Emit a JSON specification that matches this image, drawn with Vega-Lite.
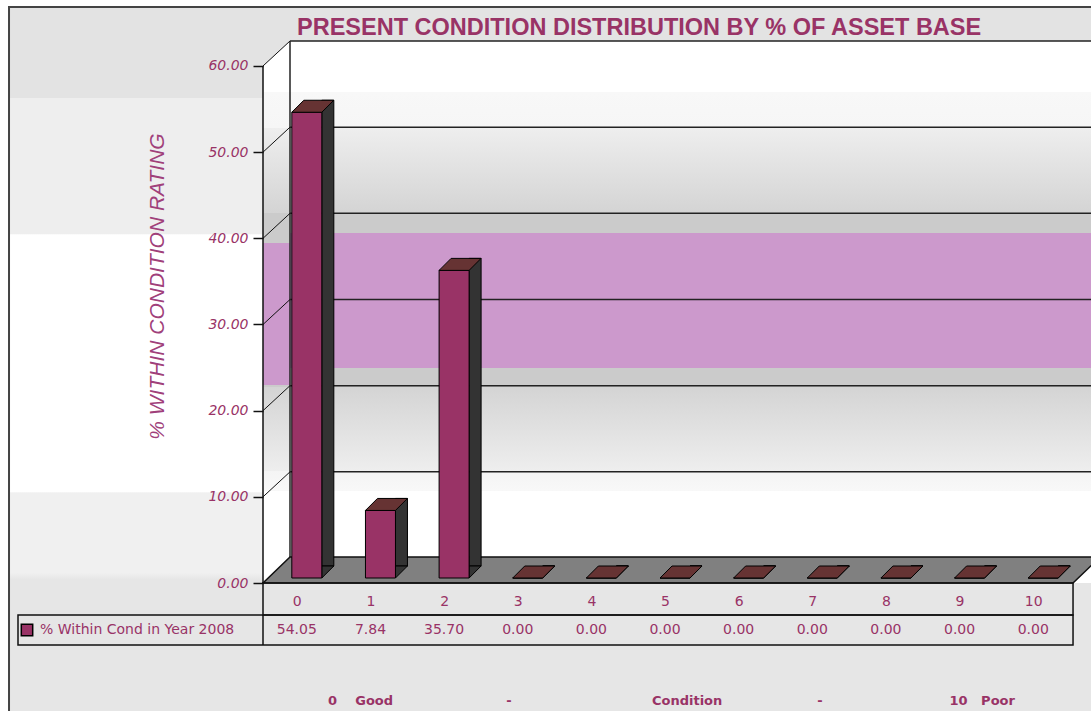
{
  "$schema": "https://vega.github.io/schema/vega-lite/v6.json",
  "width": 828,
  "height": 542,
  "autosize": {"type": "none"},
  "padding": {"left": 263, "top": 41, "right": 0, "bottom": 128},
  "background": "white",
  "config": {"view": {"stroke": null}},
  "title": {"text": "PRESENT CONDITION DISTRIBUTION BY % OF ASSET BASE", "anchor": "start", "frame": "group", "dx": 34, "offset": -33, "font": "Liberation Sans", "fontSize": 23.5, "fontWeight": "bold", "color": "#993366"},
  "data": {"values": [{"one": 1}]},
  "datasets": {
    "bars": [
      {"cond": 0, "pct": 54.05, "series": "% Within Cond in Year 2008"},
      {"cond": 1, "pct": 7.84, "series": "% Within Cond in Year 2008"},
      {"cond": 2, "pct": 35.70, "series": "% Within Cond in Year 2008"},
      {"cond": 3, "pct": 0.00, "series": "% Within Cond in Year 2008"},
      {"cond": 4, "pct": 0.00, "series": "% Within Cond in Year 2008"},
      {"cond": 5, "pct": 0.00, "series": "% Within Cond in Year 2008"},
      {"cond": 6, "pct": 0.00, "series": "% Within Cond in Year 2008"},
      {"cond": 7, "pct": 0.00, "series": "% Within Cond in Year 2008"},
      {"cond": 8, "pct": 0.00, "series": "% Within Cond in Year 2008"},
      {"cond": 9, "pct": 0.00, "series": "% Within Cond in Year 2008"},
      {"cond": 10, "pct": 0.00, "series": "% Within Cond in Year 2008"}
    ],
    "tickrows": [{"v": 0}, {"v": 10}, {"v": 20}, {"v": 30}, {"v": 40}, {"v": 50}, {"v": 60}],
    "gridrows": [{"v": 10}, {"v": 20}, {"v": 30}, {"v": 40}, {"v": 50}, {"v": 60}]
  },
  "layer": [
    {
      "mark": {"type": "rect", "stroke": "#444444", "strokeWidth": 2, "fill": {"gradient": "linear", "x1": 0, "y1": 0, "x2": 0, "y2": 1, "stops": [
        {"offset": 0, "color": "#e3e3e3"}, {"offset": 0.128, "color": "#e3e3e3"},
        {"offset": 0.129, "color": "#eeeeee"}, {"offset": 0.321, "color": "#eeeeee"},
        {"offset": 0.322, "color": "#ffffff"}, {"offset": 0.686, "color": "#ffffff"},
        {"offset": 0.687, "color": "#f0f0f0"}, {"offset": 0.8, "color": "#f0f0f0"},
        {"offset": 0.81, "color": "#e6e6e6"}, {"offset": 1, "color": "#e6e6e6"}]}},
      "encoding": {
        "x": {"datum": -3.949, "type": "quantitative", "scale": {"domain": [-0.5, 10.744], "nice": false, "zero": false, "padding": 0},
          "axis": {"values": [0,1,2,3,4,5,6,7,8,9,10], "format": "d", "orient": "bottom", "domain": false, "ticks": false, "tickSize": 0, "grid": false, "labelPadding": 11, "labelOffset": -3, "labelFont": "DejaVu Sans", "labelFontSize": 14, "labelColor": "#993366", "labelFlush": false, "labelOverlap": false, "zindex": 1,
            "title": "0\u00a0\u00a0\u00a0\u00a0Good\u00a0\u00a0\u00a0\u00a0\u00a0\u00a0\u00a0\u00a0\u00a0\u00a0\u00a0\u00a0\u00a0\u00a0\u00a0\u00a0\u00a0\u00a0\u00a0\u00a0\u00a0\u00a0\u00a0\u00a0\u00a0-\u00a0\u00a0\u00a0\u00a0\u00a0\u00a0\u00a0\u00a0\u00a0\u00a0\u00a0\u00a0\u00a0\u00a0\u00a0\u00a0\u00a0\u00a0\u00a0\u00a0\u00a0\u00a0\u00a0\u00a0\u00a0\u00a0\u00a0\u00a0\u00a0\u00a0\u00a0Condition\u00a0\u00a0\u00a0\u00a0\u00a0\u00a0\u00a0\u00a0\u00a0\u00a0\u00a0\u00a0\u00a0\u00a0\u00a0\u00a0\u00a0\u00a0\u00a0\u00a0\u00a0-\u00a0\u00a0\u00a0\u00a0\u00a0\u00a0\u00a0\u00a0\u00a0\u00a0\u00a0\u00a0\u00a0\u00a0\u00a0\u00a0\u00a0\u00a0\u00a0\u00a0\u00a0\u00a0\u00a0\u00a0\u00a0\u00a0\u00a0\u00a010\u00a0\u00a0\u00a0Poor",
            "titleFont": "DejaVu Sans", "titleFontSize": 13, "titleFontWeight": "bold", "titleColor": "#993366", "titleX": 408, "titleY": 117, "titleAlign": "center", "titleBaseline": "middle"}},
        "x2": {"datum": 11.2},
        "y": {"datum": 66.84, "type": "quantitative", "scale": {"domain": [0, 62.9], "nice": false, "zero": false, "padding": 0},
          "axis": {"values": [0,10,20,30,40,50,60], "format": ".2f", "orient": "left", "domain": false, "grid": false, "ticks": true, "tickSize": 10, "tickColor": "#111111", "tickWidth": 1.5, "labelPadding": 5, "labelFont": "DejaVu Sans", "labelFontSize": 14, "labelFontStyle": "italic", "labelColor": "#993366", "zindex": 1,
            "title": "% WITHIN CONDITION RATING", "titleFont": "Liberation Sans", "titleFontSize": 21, "titleFontStyle": "italic", "titleFontWeight": "normal", "titleColor": "#a0407a", "titleAngle": -90, "titleX": -106, "titleY": 245, "titleAlign": "center", "titleBaseline": "middle"}},
        "y2": {"datum": -15.2}
      }
    },
    {
      "mark": {"type": "rect", "fill": {"gradient": "linear", "x1": 0, "y1": 0, "x2": 0, "y2": 1, "stops": [
        {"offset": 0, "color": "#ffffff"}, {"offset": 0.094, "color": "#ffffff"},
        {"offset": 0.095, "color": "#f8f8f8"}, {"offset": 0.16, "color": "#f6f6f6"},
        {"offset": 0.161, "color": "#eeeeee"}, {"offset": 0.317, "color": "#d4d4d4"},
        {"offset": 0.318, "color": "#cbcbcb"}, {"offset": 0.638, "color": "#cbcbcb"},
        {"offset": 0.639, "color": "#d4d4d4"}, {"offset": 0.793, "color": "#eeeeee"},
        {"offset": 0.794, "color": "#f4f4f4"}, {"offset": 0.83, "color": "#f8f8f8"},
        {"offset": 0.831, "color": "#ffffff"}, {"offset": 1, "color": "#ffffff"}]}},
      "encoding": {
        "x": {"datum": -0.5, "type": "quantitative"},
        "x2": {"datum": 11.2},
        "y": {"datum": 0, "type": "quantitative"},
        "y2": {"datum": 62.9}
      }
    },
    {
      "mark": {"type": "point", "shape": "M0,0L27,-25L0,-25Z", "size": 4, "filled": true, "fill": "#e3e3e3", "strokeWidth": 0, "opacity": 1},
      "encoding": {"x": {"datum": -0.5, "type": "quantitative"}, "y": {"datum": 60, "type": "quantitative"}}
    },
    {
      "mark": {"type": "rect", "fill": "#cc99cc"},
      "encoding": {"x": {"datum": -0.1333, "type": "quantitative"}, "x2": {"datum": 11.2}, "y": {"datum": 24.95, "type": "quantitative"}, "y2": {"datum": 40.62}}
    },
    {
      "mark": {"type": "rect", "fill": "#cc99cc"},
      "encoding": {"x": {"datum": -0.5, "type": "quantitative"}, "x2": {"datum": -0.1333}, "y": {"datum": 22.98, "type": "quantitative"}, "y2": {"datum": 39.46}}
    },
    {
      "data": {"name": "gridrows"},
      "mark": {"type": "rule", "color": "#222222", "strokeWidth": 1.5, "yOffset": -25},
      "encoding": {"x": {"datum": -0.1333, "type": "quantitative"}, "x2": {"datum": 11.2}, "y": {"field": "v", "type": "quantitative"}}
    },
    {
      "mark": {"type": "rule", "color": "#222222", "strokeWidth": 1.5, "yOffset": -25, "y2Offset": -25},
      "encoding": {"x": {"datum": -0.1333, "type": "quantitative"}, "y": {"datum": 0, "type": "quantitative"}, "y2": {"datum": 60}}
    },
    {
      "data": {"name": "tickrows"},
      "mark": {"type": "point", "shape": "M0,0L27,-25", "size": 4, "filled": false, "stroke": "#111111", "strokeWidth": 1, "opacity": 1},
      "encoding": {"x": {"datum": -0.5, "type": "quantitative"}, "y": {"field": "v", "type": "quantitative"}}
    },
    {
      "mark": {"type": "rule", "color": "#111111", "strokeWidth": 1.5},
      "encoding": {"x": {"datum": -0.5, "type": "quantitative"}, "y": {"datum": 0, "type": "quantitative"}, "y2": {"datum": 60}}
    },
    {
      "mark": {"type": "point", "shape": "M0,0L810,0L837,-26L27,-26Z", "size": 4, "filled": true, "fill": "#808080", "stroke": "#111111", "strokeWidth": 1.5, "opacity": 1},
      "encoding": {"x": {"datum": -0.5, "type": "quantitative"}, "y": {"datum": 0, "type": "quantitative"}}
    },
    {
      "data": {"name": "bars"},
      "mark": {"type": "bar", "width": 12, "xOffset": 28, "yOffset": -17, "y2Offset": -17, "fill": "#333333", "stroke": "#000000", "strokeWidth": 1},
      "encoding": {"x": {"field": "cond", "type": "quantitative"}, "y": {"field": "pct", "type": "quantitative"}}
    },
    {
      "data": {"name": "bars"},
      "mark": {"type": "point", "shape": "M22,-5L34,-17L22,-17Z", "size": 4, "filled": true, "fill": "#333333", "stroke": "#000000", "strokeWidth": 1, "opacity": 1},
      "encoding": {"x": {"field": "cond", "type": "quantitative"}, "y": {"datum": 0, "type": "quantitative"}}
    },
    {
      "data": {"name": "bars"},
      "mark": {"type": "bar", "width": 30, "xOffset": 7, "yOffset": -5, "y2Offset": -5, "stroke": "#000000", "strokeWidth": 1, "opacity": 1},
      "encoding": {
        "x": {"field": "cond", "type": "quantitative"},
        "y": {"field": "pct", "type": "quantitative"},
        "color": {"field": "series", "type": "nominal", "scale": {"domain": ["% Within Cond in Year 2008"], "range": ["#993366"]},
          "legend": {"orient": "none", "legendX": -243, "legendY": 582, "title": null, "padding": 0, "symbolType": "square", "symbolSize": 130, "symbolStrokeColor": "#000000", "symbolStrokeWidth": 1.5, "symbolOpacity": 1, "labelFont": "DejaVu Sans", "labelFontSize": 14, "labelColor": "#993366", "labelOffset": 6, "labelLimit": 400}}
      }
    },
    {
      "data": {"name": "bars"},
      "mark": {"type": "point", "shape": "M-8,-5L22,-5L34,-17L4,-17Z", "size": 4, "filled": true, "fill": "#663333", "stroke": "#000000", "strokeWidth": 1, "opacity": 1},
      "encoding": {"x": {"field": "cond", "type": "quantitative"}, "y": {"field": "pct", "type": "quantitative"}}
    },
    {
      "mark": {"type": "rect", "fillOpacity": 0, "stroke": "#111111", "strokeWidth": 1.5},
      "encoding": {"x": {"datum": -0.5, "type": "quantitative"}, "x2": {"datum": 10.5}, "y": {"datum": 0, "type": "quantitative"}, "y2": {"datum": -3.71}}
    },
    {
      "mark": {"type": "rect", "fillOpacity": 0, "stroke": "#111111", "strokeWidth": 1.5},
      "encoding": {"x": {"datum": -3.827, "type": "quantitative"}, "x2": {"datum": 10.5}, "y": {"datum": -3.71, "type": "quantitative"}, "y2": {"datum": -7.195}}
    },
    {
      "mark": {"type": "rule", "color": "#111111", "strokeWidth": 1.5},
      "encoding": {"x": {"datum": -0.5, "type": "quantitative"}, "y": {"datum": -3.71, "type": "quantitative"}, "y2": {"datum": -7.195}}
    },
    {
      "data": {"name": "bars"},
      "mark": {"type": "text", "font": "DejaVu Sans", "fontSize": 14, "color": "#993366", "align": "center", "baseline": "middle", "dy": 47, "dx": -3},
      "encoding": {"x": {"field": "cond", "type": "quantitative"}, "y": {"datum": 0, "type": "quantitative"}, "text": {"field": "pct", "type": "quantitative", "format": ".2f"}}
    }
  ]
}
